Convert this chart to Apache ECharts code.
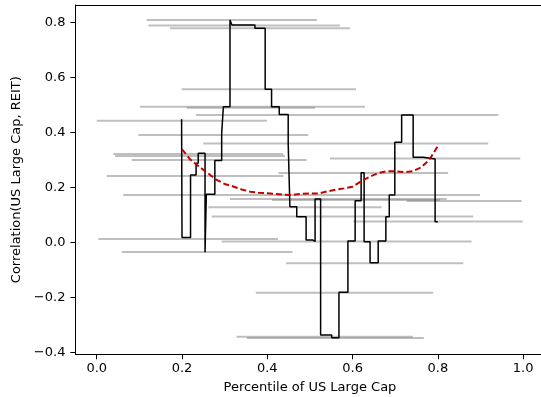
<!DOCTYPE html>
<html>
<head>
<meta charset="utf-8">
<script src="https://cdn.jsdelivr.net/npm/echarts@6/dist/echarts.min.js"></script>
<style>
html,body{margin:0;padding:0;background:#fff;}
#chart{width:541px;height:397px;}
</style>
</head>
<body>
<div id="chart"></div>
<script>
// Grey horizontal reference segments: start x, end x, level y
const greyX0 = [0.117,0.121,0.172,0.199,0.1015,0.211,0.233,0.0,0.0975,0.25,0.039,0.043,0.082,0.547,0.426,0.0234,0.0624,0.3125,0.411,0.727,0.2617,0.2696,0.6017,0.0037,0.293,0.0586,0.444,0.373,0.328,0.352];
const greyX1 = [0.516,0.570,0.594,0.608,0.629,0.512,0.942,0.399,0.496,0.918,0.4375,0.4415,0.492,0.993,0.824,0.4375,0.899,0.8206,0.805,0.9965,0.668,0.883,0.9988,0.425,0.879,0.459,0.8596,0.789,0.7416,0.767];
const greyY  = [0.808,0.788,0.778,0.556,0.493,0.489,0.463,0.442,0.390,0.359,0.321,0.314,0.299,0.305,0.252,0.241,0.172,0.1575,0.154,0.150,0.127,0.094,0.0756,0.012,0.003,-0.035,-0.0764,-0.1833,-0.3433,-0.348];

// Rolling correlation (step line)
const stepX = [0.199,0.200,0.220,0.233,0.238,0.254,0.257,0.277,0.293,0.297,0.3125,0.317,0.371,0.395,0.410,0.428,0.449,0.453,0.469,0.491,0.507,0.512,0.525,0.551,0.568,0.589,0.606,0.620,0.627,0.641,0.660,0.678,0.686,0.699,0.715,0.742,0.766,0.7935,0.800];
const stepY = [0.447,0.017,0.245,0.287,0.324,-0.036,0.175,0.297,0.396,0.493,0.808,0.790,0.778,0.556,0.493,0.465,0.359,0.129,0.093,0.008,0.003,0.157,-0.337,-0.347,-0.182,0.005,0.151,0.253,0.002,-0.074,0.005,0.093,0.172,0.364,0.463,0.309,0.303,0.075,0.075];

// Smoothed trend (red dashed)
const trendX = [0.20,0.22,0.24,0.26,0.28,0.30,0.32,0.34,0.36,0.38,0.40,0.42,0.44,0.46,0.48,0.50,0.52,0.54,0.56,0.58,0.60,0.62,0.64,0.66,0.68,0.70,0.72,0.74,0.76,0.78,0.80];
const trendY = [0.338,0.300,0.275,0.252,0.228,0.212,0.203,0.192,0.184,0.180,0.178,0.176,0.173,0.172,0.176,0.178,0.177,0.185,0.191,0.196,0.202,0.222,0.238,0.252,0.258,0.258,0.255,0.258,0.272,0.300,0.350];

const xTicks = [0.0,0.2,0.4,0.6,0.8,1.0];
const yTicks = [-0.4,-0.2,0.0,0.2,0.4,0.6,0.8];

const FONT = 'DejaVu Sans';
const X_MIN = -0.05, X_MAX = 1.05, Y_MIN = -0.4073, Y_MAX = 0.8627;

const chart = echarts.init(document.getElementById('chart'), null, {renderer:'canvas'});
const fmt = v => v.toFixed(1).replace('-', '\u2212');

const greyData = greyY.map((y,i) => [greyX0[i], greyX1[i], y]);

chart.setOption({
  animation:false,
  backgroundColor:'#fff',
  grid:{left:75.4, top:5, right:-3.5, bottom:42.7, containLabel:false, outerBoundsMode:'none'},
  xAxis:[{
    type:'value', min:X_MIN, max:X_MAX, position:'bottom',
    axisLine:{show:true, onZero:false, lineStyle:{color:'#000', width:1}},
    axisTick:{show:true, length:5, customValues:xTicks, lineStyle:{color:'#000', width:1}},
    axisLabel:{show:true, customValues:xTicks, formatter:fmt, margin:8, color:'#000', fontFamily:FONT, fontSize:13},
    splitLine:{show:false},
    name:'Percentile of US Large Cap', nameLocation:'middle', nameGap:27,
    nameTextStyle:{color:'#000', fontFamily:FONT, fontSize:13}
  },{
    type:'value', min:X_MIN, max:X_MAX, position:'top',
    axisLine:{show:true, onZero:false, lineStyle:{color:'#000', width:1}},
    axisTick:{show:false}, axisLabel:{show:false}, splitLine:{show:false}
  }],
  yAxis:{
    type:'value', min:Y_MIN, max:Y_MAX,
    axisLine:{show:true, onZero:false, lineStyle:{color:'#000', width:1}},
    axisTick:{show:true, length:5, customValues:yTicks, lineStyle:{color:'#000', width:1}},
    axisLabel:{show:true, customValues:yTicks, formatter:fmt, margin:10, color:'#000', fontFamily:FONT, fontSize:13},
    splitLine:{show:false},
    name:'Correlation(US Large Cap, REIT)', nameLocation:'middle', nameGap:42,
    nameTextStyle:{color:'#000', fontFamily:FONT, fontSize:13}
  },
  series:[{
    type:'custom',
    data:greyData,
    encode:{x:[0,1], y:2},
    silent:true,
    z:1,
    renderItem:function(params, api){
      const p0 = api.coord([api.value(0), api.value(2)]);
      const p1 = api.coord([api.value(1), api.value(2)]);
      return {type:'line', shape:{x1:p0[0], y1:p0[1], x2:p1[0], y2:p1[1]},
              style:{stroke:'rgba(128,128,128,0.5)', lineWidth:2}};
    }
  },{
    type:'line',
    data:stepX.map((x,i)=>[x, stepY[i]]),
    step:'end', showSymbol:false, symbol:'none', z:3,
    lineStyle:{color:'#000', width:1.5}
  },{
    type:'line',
    data:trendX.map((x,i)=>[x, trendY[i]]),
    showSymbol:false, symbol:'none', z:4,
    lineStyle:{color:'#c40000', width:2, type:[6,3]}
  }]
});
</script>
</body>
</html>
